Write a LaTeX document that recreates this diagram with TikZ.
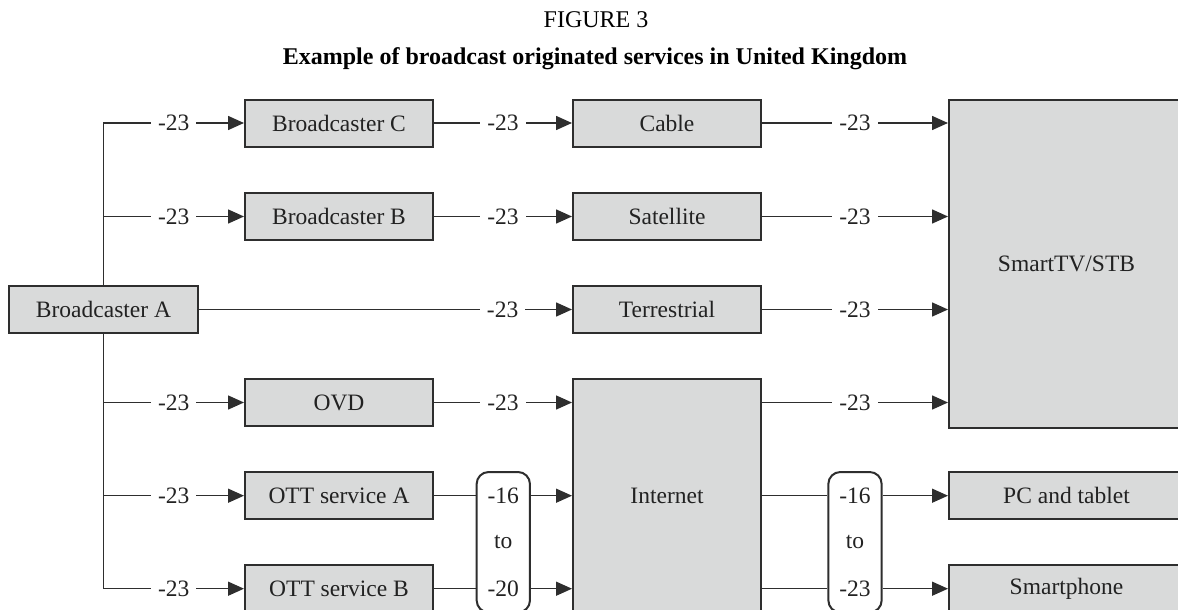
\documentclass[tikz,border=0pt]{standalone}
\usepackage{fontspec}
\setmainfont{Liberation Serif}
\usetikzlibrary{arrows.meta,calc}
\definecolor{linec}{HTML}{2E2E2E}
\definecolor{boxfill}{HTML}{D9DADA}
\definecolor{textc}{HTML}{222222}
\tikzset{
  box/.style={draw=linec, line width=2pt, fill=boxfill, minimum width=188pt, minimum height=47pt,
    inner sep=0pt, font=\fontsize{23.5}{28}\selectfont, text=textc},
  rbox/.style={draw=linec, line width=2pt, fill=white, rounded corners=12pt, minimum width=53.3pt,
    minimum height=140.4pt, inner sep=0pt},
  conn/.style={draw=linec, line width=1.5pt},
  arr/.style={conn, -{Triangle[length=16pt,width=14pt]}},
  lab/.style={fill=white, inner xsep=7pt, inner ysep=2pt, font=\fontsize{23.5}{28}\selectfont, text=textc},
  rtxt/.style={inner sep=0pt, font=\fontsize{23.5}{28}\selectfont, text=textc},
}
\begin{document}
\begin{tikzpicture}[x=1pt,y=-1pt]
\useasboundingbox (0,0) rectangle (1178,610);
\clip (0,0) rectangle (1178,610);
\fill[white] (0,0) rectangle (1178,610);
% titles
\node[anchor=base, inner sep=0pt, font=\fontsize{24}{28}\selectfont, text=black] (t1) at (596,28) {FIGURE 3};
\node[anchor=base, inner sep=0pt, font=\fontsize{24}{28}\selectfont\bfseries, text=black] (t2) at (595,65) {Example of broadcast originated services in United Kingdom};
% boxes
\node[box, minimum width=189pt] (A) at (103.5,309.5) {Broadcaster A};
\node[box] (BC) at (339,123) {Broadcaster C};
\node[box] (BB) at (339,216.5) {Broadcaster B};
\node[box] (OVD) at (339,402.5) {OVD};
\node[box] (OTTA) at (339,495.7) {OTT service A};
\node[box] (OTTB) at (339,588.7) {OTT service B};
\node[box] (Cab) at (667,123) {Cable};
\node[box] (Sat) at (667,216.5) {Satellite};
\node[box] (Ter) at (667,309.5) {Terrestrial};
\node[box, minimum height=233.4pt] (Int) at (667,495.7) {};
\node[rtxt] (IntT) at (667,495.7) {Internet};
\node[box, minimum width=235pt, minimum height=328pt] (STV) at (1066.5,264) {SmartTV/STB};
\node[box, minimum width=235pt] (PC) at (1066.5,495.7) {PC and tablet};
\node[box, minimum width=235pt] (SP) at (1066.5,588.7) {Smartphone};
\node[rbox] (RL) at (503.3,542.2) {};
\node[rbox] (RR) at (855,542.2) {};
\node[rtxt] (RL1) at (RL |- OTTA) {-16};
\node[rtxt] (RL2) at (RL.center) {to};
\node[rtxt] (RL3) at (RL |- OTTB) {-20};
\node[rtxt] (RR1) at (RR |- OTTA) {-16};
\node[rtxt] (RR2) at (RR.center) {to};
\node[rtxt] (RR3) at (RR |- OTTB) {-23};
% bus from Broadcaster A
\draw[arr] (A.north) |- node[lab, pos=0.75] {-23} (BC.west);
\draw[arr] (A.north) |- node[lab, pos=0.75] {-23} (BB.west);
\draw[arr] (A.south) |- node[lab, pos=0.75] {-23} (OVD.west);
\draw[arr] (A.south) |- node[lab, pos=0.75] {-23} (OTTA.west);
\draw[arr] (A.south) |- node[lab, pos=0.75] {-23} (OTTB.west);
\draw[arr] (A.east) -- node[lab, pos=0.814] {-23} (Ter.west);
% middle column
\draw[arr] (BC.east) -- node[lab] {-23} (Cab.west);
\draw[arr] (BB.east) -- node[lab] {-23} (Sat.west);
\draw[arr] (OVD.east) -- node[lab] {-23} (Int.west |- OVD);
\draw[conn] (OTTA.east) -- (RL.west |- OTTA);
\draw[conn] (OTTB.east) -- (RL.west |- OTTB);
\draw[arr] (RL.east |- OTTA) -- (Int.west |- OTTA);
\draw[arr] (RL.east |- OTTB) -- (Int.west |- OTTB);
% right column
\draw[arr] (Cab.east) -- node[lab] {-23} (STV.west |- Cab);
\draw[arr] (Sat.east) -- node[lab] {-23} (STV.west |- Sat);
\draw[arr] (Ter.east) -- node[lab] {-23} (STV.west |- Ter);
\draw[arr] (Int.east |- OVD) -- node[lab] {-23} (STV.west |- OVD);
\draw[conn] (Int.east |- OTTA) -- (RR.west |- OTTA);
\draw[conn] (Int.east |- OTTB) -- (RR.west |- OTTB);
\draw[arr] (RR.east |- OTTA) -- (PC.west);
\draw[arr] (RR.east |- OTTB) -- (SP.west);
\end{tikzpicture}
\end{document}
